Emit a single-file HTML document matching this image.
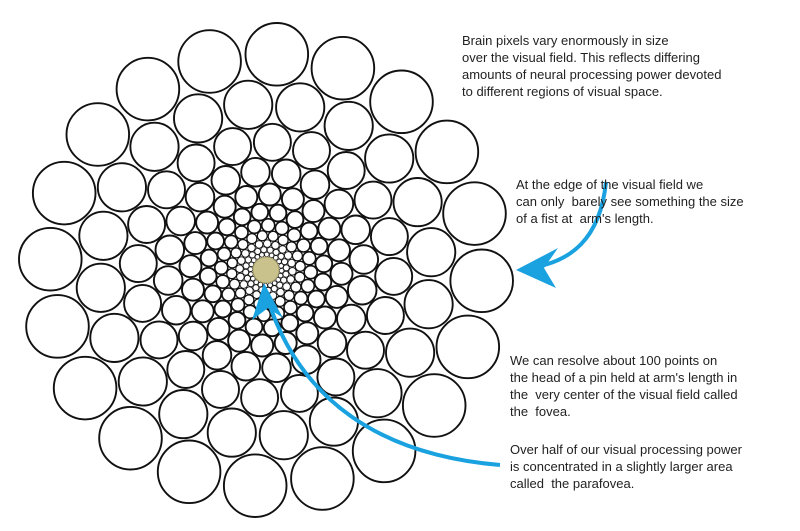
<!DOCTYPE html>
<html><head><meta charset="utf-8"><style>
html,body{margin:0;padding:0;background:#fff;width:800px;height:531px;overflow:hidden}
.t{position:absolute;font-family:"Liberation Sans",sans-serif;font-size:13px;line-height:17px;color:#222}
</style></head><body>
<svg id="s" width="800" height="531" style="position:absolute;left:0;top:0">
<g id="g" fill="#fff" stroke="#111" stroke-width="1.6"></g>
<circle cx="266" cy="270" r="13" fill="#c9c28c" stroke="#a9a06a" stroke-width="1"/>
<path d="M606,182 C600,240 570,262 530,268" fill="none" stroke="#1aa2e0" stroke-width="4"/>
<polygon points="516,270 558,248 544,268 556,288" fill="#1aa2e0"/>
<path d="M500,465 C380,455 300,400 268,300" fill="none" stroke="#1aa2e0" stroke-width="4"/>
<polygon points="264,283 283,318 268,308 252,320" fill="#1aa2e0"/>
</svg>
<div class="t" style="left:462px;top:32px">Brain pixels vary enormously in size<br>over the visual field. This reflects differing<br>amounts of neural processing power devoted<br>to different regions of visual space.</div>
<div class="t" style="left:516px;top:176px">At the edge of the visual field we<br>can only &nbsp;barely see something the size<br>of a fist at &nbsp;arm's length.</div>
<div class="t" style="left:510px;top:352px">We can resolve about 100 points on<br>the head of a pin held at arm's length in<br>the &nbsp;very center of the visual field called<br>the &nbsp;fovea.</div>
<div class="t" style="left:510px;top:441px">Over half of our visual processing power<br>is concentrated in a slightly larger area<br>called &nbsp;the parafovea.</div>
<script>
var g=document.getElementById('g'),cx=266,cy=270,N=20,r=216,k=0,out='';
while(r>15){var cr=r*0.145;
for(var i=0;i<N;i++){var a=(i+(k%2)*0.5)/N*2*Math.PI+0.05;
out+='<circle cx="'+(cx+r*Math.cos(a)).toFixed(1)+'" cy="'+(cy+r*Math.sin(a)).toFixed(1)+'" r="'+cr.toFixed(1)+'" stroke-width="'+Math.min(1.9,Math.max(0.8,cr/4)).toFixed(2)+'"/>';}
r/=1.3;k++;}
g.innerHTML=out;
</script>
</body></html>
